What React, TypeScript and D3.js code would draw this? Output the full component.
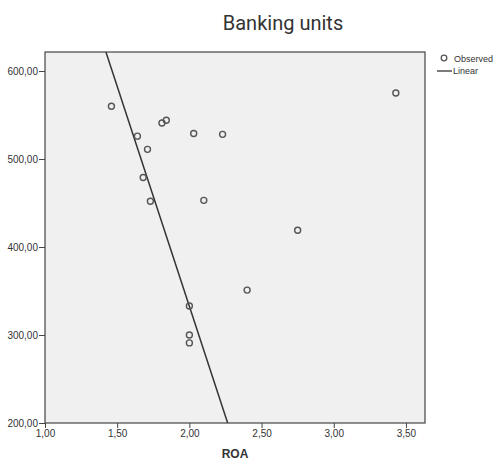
import React, { useEffect, useRef } from "react";
import * as d3 from "d3";

// observed ROA vs banking units
const roaValues = [1.46, 1.64, 1.71, 1.68, 1.73, 1.81, 1.84, 2.03, 2.23, 2.1, 2.75, 2.4, 2.0, 2.0, 2.0, 3.43];
const unitValues = [560, 526, 511, 479, 452, 541, 544, 529, 528, 453, 419, 351, 333, 300, 291, 575];

const xTicks = [1.0, 1.5, 2.0, 2.5, 3.0, 3.5];
const yTicks = [200, 300, 400, 500, 600];

// linear fit: units = intercept + slope * ROA
const fitIntercept = 1332.6;
const fitSlope = -500;

const App = () => {
  const ref = useRef<SVGSVGElement>(null);

  useEffect(() => {
    const width = 498;
    const height = 461;
    const margin = { left: 45, right: 73, top: 52, bottom: 38 };

    const svg = d3.select(ref.current)
      .attr("width", width)
      .attr("height", height)
      .style("display", "block")
      .style("position", "absolute")
      .style("left", "0px")
      .style("top", "0px");
    svg.selectAll("*").remove();

    const x = d3.scaleLinear().domain([1, 3.632]).range([margin.left, width - margin.right]);
    const y = d3.scaleLinear().domain([200, 621.6]).range([height - margin.bottom, margin.top]);

    const fmt = (v: number) => d3.format(".2f")(v).replace(".", ",");

    svg.append("text")
      .attr("x", 283)
      .attr("y", 30)
      .attr("text-anchor", "middle")
      .style("font", "20px Roboto, sans-serif")
      .attr("fill", "#333")
      .text("Banking units");

    svg.append("rect")
      .attr("x", margin.left)
      .attr("y", margin.top)
      .attr("width", width - margin.left - margin.right)
      .attr("height", height - margin.top - margin.bottom)
      .attr("fill", "#f0f0f0");

    svg.append("clipPath").attr("id", "plotclip")
      .append("rect")
      .attr("x", margin.left)
      .attr("y", margin.top)
      .attr("width", width - margin.left - margin.right)
      .attr("height", height - margin.top - margin.bottom);

    // regression line
    const x0 = 1, x1 = 3.632;
    svg.append("line")
      .attr("clip-path", "url(#plotclip)")
      .attr("x1", x(x0)).attr("y1", y(fitIntercept + fitSlope * x0))
      .attr("x2", x(x1)).attr("y2", y(fitIntercept + fitSlope * x1))
      .attr("stroke", "#333")
      .attr("stroke-width", 1.5);

    svg.append("g")
      .selectAll("circle")
      .data(roaValues.map((r, i) => [r, unitValues[i]]))
      .enter()
      .append("circle")
      .attr("cx", d => x(d[0]))
      .attr("cy", d => y(d[1]))
      .attr("r", 3)
      .attr("fill", "none")
      .attr("stroke", "#555")
      .attr("stroke-width", 1.4);

    svg.append("rect")
      .attr("x", margin.left)
      .attr("y", margin.top)
      .attr("width", width - margin.left - margin.right)
      .attr("height", height - margin.top - margin.bottom)
      .attr("fill", "none")
      .attr("stroke", "#444")
      .attr("stroke-width", 1.2);

    const xAxis = svg.append("g")
      .attr("transform", `translate(0,${height - margin.bottom})`)
      .call(d3.axisBottom(x).tickValues(xTicks).tickFormat(d => fmt(+d)).tickSize(5).tickPadding(2));
    const yAxis = svg.append("g")
      .attr("transform", `translate(${margin.left},0)`)
      .call(d3.axisLeft(y).tickValues(yTicks).tickFormat(d => fmt(+d)).tickSize(6).tickPadding(1));

    [xAxis, yAxis].forEach(a => {
      a.select(".domain").remove();
      a.selectAll("line").attr("stroke", "#444");
      a.selectAll("text")
        .attr("fill", "#333")
        .style("font", "10px Arial, 'Liberation Sans', sans-serif");
    });

    svg.append("text")
      .attr("x", (margin.left + width - margin.right) / 2)
      .attr("y", 458)
      .attr("text-anchor", "middle")
      .style("font", "bold 12px Arial, 'Liberation Sans', sans-serif")
      .attr("fill", "#333")
      .text("ROA");

    // legend
    const leg = svg.append("g");
    leg.append("circle")
      .attr("cx", 444).attr("cy", 58).attr("r", 2.8)
      .attr("fill", "none").attr("stroke", "#555").attr("stroke-width", 1.3);
    leg.append("text")
      .attr("x", 454).attr("y", 62)
      .style("font", "9px Arial, 'Liberation Sans', sans-serif")
      .attr("fill", "#333")
      .text("Observed");
    leg.append("line")
      .attr("x1", 437).attr("x2", 452).attr("y1", 71).attr("y2", 71)
      .attr("stroke", "#333").attr("stroke-width", 1.3);
    leg.append("text")
      .attr("x", 453).attr("y", 74)
      .style("font", "9px Arial, 'Liberation Sans', sans-serif")
      .attr("fill", "#333")
      .text("Linear");
  }, []);

  return <svg ref={ref}></svg>;
};

export default App;
